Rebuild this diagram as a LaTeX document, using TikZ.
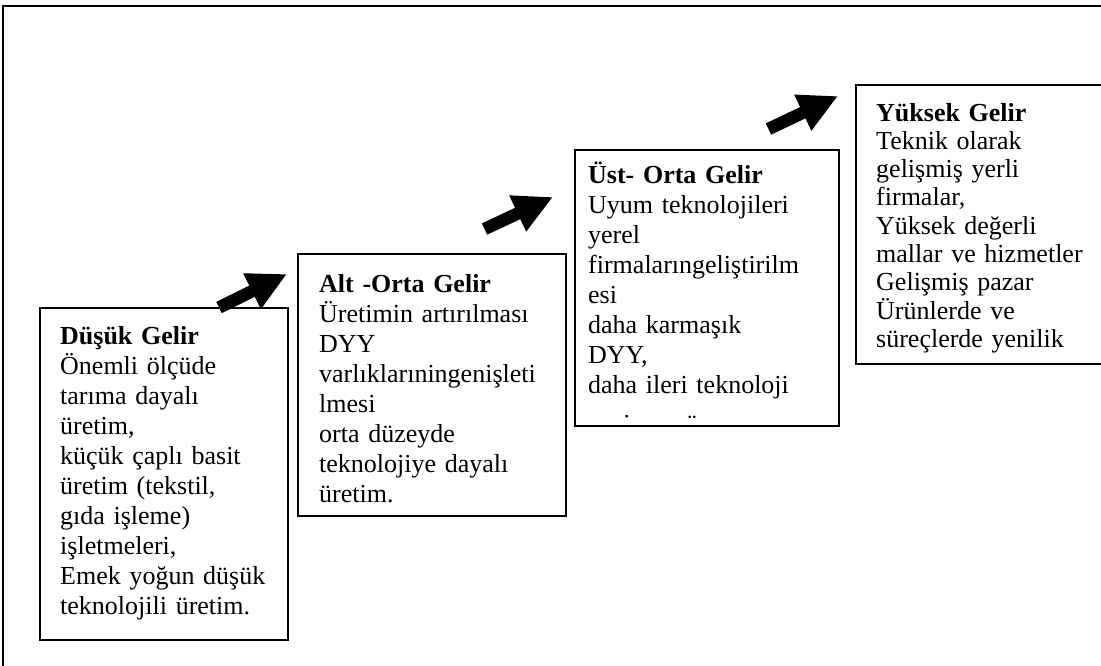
\documentclass[tikz,border=0pt]{standalone}
\usepackage{fontspec}
\setmainfont{Liberation Serif}
\usetikzlibrary{arrows.meta}
\begin{document}
\begin{tikzpicture}[x=1pt,y=-1pt,
  frame/.style={line width=2.5pt},
  stage/.style={draw, line width=2pt, anchor=north west, inner sep=0pt},
  body/.style={anchor=base west, inner sep=0pt, text width=300pt, align=left, font=\fontsize{26}{30}\selectfont},
  tightbody/.style={body, font=\fontsize{26}{28.3}\selectfont},
  glyph/.style={anchor=base, inner sep=0pt, font=\fontsize{26}{30}\selectfont},
  uparrow/.style={line width=12.5pt, -{Triangle[length=39pt,width=37pt]}}]
\useasboundingbox (0,0) rectangle (1101,665);
\fill[white] (0,0) rectangle (1101,665);
% outer frame (extends beyond right and bottom edges)
\draw[frame] (3,6) rectangle (1120,690);
% stage boxes
\node[stage, minimum width=248pt, minimum height=332pt] (b1) at (39,307) {};
\node[stage, minimum width=268pt, minimum height=262pt] (b2) at (297,253) {};
\node[stage, minimum width=264pt, minimum height=276pt] (b3) at (574,149) {};
\node[stage, minimum width=270pt, minimum height=279pt] (b4) at (855,84) {};
% texts
\node[body] (t1) at (60,344) {\textbf{Düşük Gelir}\\Önemli ölçüde\\tarıma dayalı\\üretim,\\küçük çaplı basit\\üretim (tekstil,\\gıda işleme)\\işletmeleri,\\Emek yoğun düşük\\teknolojili üretim.};
\node[body] (t2) at (319,292) {\textbf{Alt -Orta Gelir}\\Üretimin artırılması\\DYY\\varlıklarıningenişleti\\lmesi\\orta düzeyde\\teknolojiye dayalı\\üretim.};
\node[body] (t3) at (588,183) {\textbf{Üst- Orta Gelir}\\Uyum teknolojileri\\yerel\\firmalarıngeliştirilm\\esi\\daha karmaşık\\DYY,\\daha ileri teknoloji};
\node[tightbody] (t4) at (876,121) {\textbf{Yüksek Gelir}\\Teknik olarak\\gelişmiş yerli\\firmalar,\\Yüksek değerli\\mallar ve hizmetler\\Gelişmiş pazar\\Ürünlerde ve\\süreçlerde yenilik};
% clipped last line of box 3 (only dots visible)
\begin{scope}
\clip (576,151) rectangle (836,418);
\node[glyph] (d1) at (627,432) {i};
\node[glyph] (d2) at (692,432) {ü};
\end{scope}
% arrows
\coordinate (a1s) at (219,307.5);
\coordinate (a1e) at (287,274);
\coordinate (a2s) at (484.5,229);
\coordinate (a2e) at (553,197);
\coordinate (a3s) at (768.5,129);
\coordinate (a3e) at (838,96);
\draw[uparrow] (a1s) -- (a1e);
\draw[uparrow] (a2s) -- (a2e);
\draw[uparrow] (a3s) -- (a3e);
\end{tikzpicture}
\end{document}
